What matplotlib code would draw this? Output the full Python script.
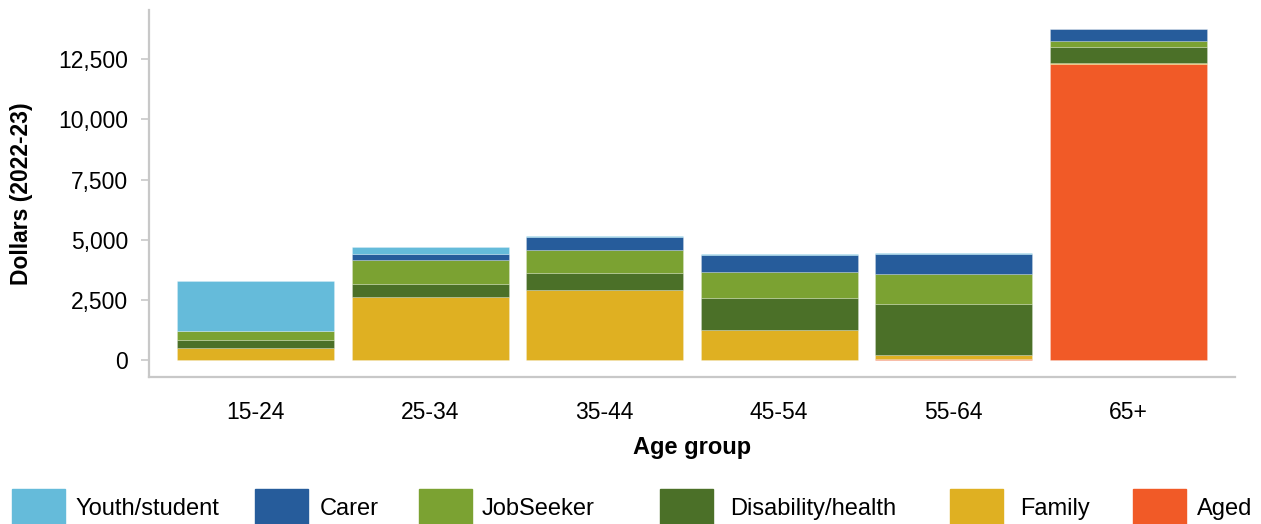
import numpy as np
import matplotlib.pyplot as plt
from matplotlib.patches import Rectangle
from matplotlib.ticker import FuncFormatter

plt.rcParams["font.family"] = ["Liberation Sans", "DejaVu Sans"]

age_groups = ["15-24", "25-34", "35-44", "45-54", "55-64", "65+"]

# stacked from the bottom up
aged = [0, 0, 0, 0, 30, 12290]
family = [510, 2620, 2920, 1265, 200, 60]
disability = [315, 540, 700, 1320, 2100, 680]
jobseeker = [370, 990, 950, 1070, 1240, 220]
carer = [30, 250, 535, 715, 840, 500]
youth = [2060, 290, 60, 40, 30, 0]

series = [
    ("Aged", aged, "#F15A27"),
    ("Family", family, "#DFB022"),
    ("Disability/health", disability, "#4B7028"),
    ("JobSeeker", jobseeker, "#7BA232"),
    ("Carer", carer, "#265C9B"),
    ("Youth/student", youth, "#65BBDA"),
]

fig = plt.figure(figsize=(12.61, 5.24), dpi=100)
ax = fig.add_axes([0.1182, 0.2805, 0.8610, 0.7005])

x = np.arange(len(age_groups))
bottom = np.zeros(len(age_groups))
for name, vals, col in series:
    ax.bar(x, vals, width=0.9, bottom=bottom, color=col,
           edgecolor=(1, 1, 1, 0.25), linewidth=0.6)
    bottom += np.array(vals)

ax.set_xlim(-0.61, 5.61)
ax.set_ylim(-700, 14550)
ax.set_yticks([0, 2500, 5000, 7500, 10000, 12500])
ax.yaxis.set_major_formatter(FuncFormatter(lambda v, p: f"{int(v):,}"))
ax.set_xticks(x)
ax.set_xticklabels(age_groups)

for s in ["top", "right"]:
    ax.spines[s].set_visible(False)
for s in ["left", "bottom"]:
    ax.spines[s].set_color("#c8c8c8")
    ax.spines[s].set_linewidth(1.6)

ax.tick_params(axis="y", length=6, width=1.2, color="#c8c8c8",
               labelsize=16.5, pad=9)
ax.tick_params(axis="x", length=0, labelsize=16.5, pad=17)

ax.set_ylabel("Dollars (2022-23)", fontsize=16.5, fontweight="bold", labelpad=18)
ax.set_xlabel("Age group", fontsize=17, fontweight="bold", labelpad=9)

# legend along the bottom edge
legend_items = [
    ("Youth/student", "#65BBDA", 12, 75),
    ("Carer", "#265C9B", 255, 320),
    ("JobSeeker", "#7BA232", 419, 482),
    ("Disability/health", "#4B7028", 660, 730),
    ("Family", "#DFB022", 950, 1020),
    ("Aged", "#F15A27", 1133, 1197),
]
W, H = 1261, 524
for label, col, px, tx in legend_items:
    fig.patches.append(Rectangle((px / W, 0), 53 / W, 35 / H, color=col,
                                 transform=fig.transFigure, figure=fig))
    fig.text(tx / W, 1 - 509 / H, label, fontsize=17, va="center", ha="left")

fig.savefig("out.png", dpi=100)
